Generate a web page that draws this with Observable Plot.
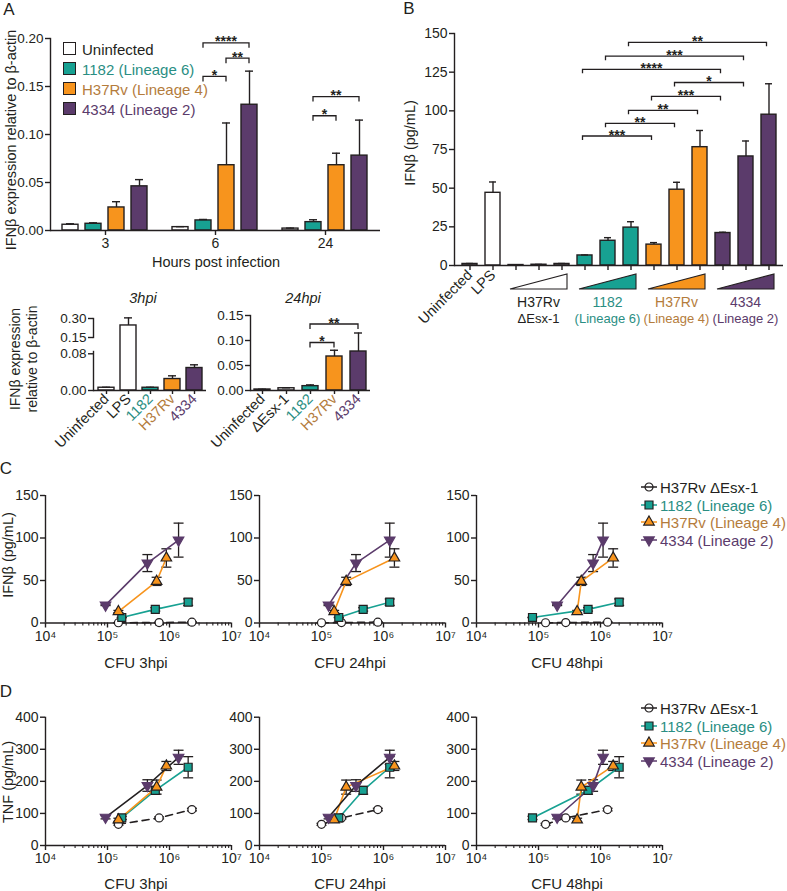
<!DOCTYPE html>
<html>
<head>
<meta charset="utf-8">
<script src="https://cdn.jsdelivr.net/npm/d3@7"></script>
<script src="https://cdn.jsdelivr.net/npm/@observablehq/plot@0.6"></script>
<style>
  html, body { margin: 0; padding: 0; background: #fff; }
  #fig { position: relative; width: 787px; height: 891px; overflow: hidden; background: #fff;
         font-family: "Liberation Sans", Arial, Helvetica, sans-serif; color: #231f20; }
  .t { position: absolute; white-space: nowrap; line-height: 1; }
</style>
</head>
<body>
<div id="fig"></div>
<script>
// ================= DATA =================
// Panel A (top): IFNβ expression relative to β-actin, by hours post infection
const hoursA = ["3", "6", "24"];
const seriesA = ["Uninfected", "1182 (Lineage 6)", "H37Rv (Lineage 4)", "4334 (Lineage 2)"];
const aUninfected = [0.006, 0.0035, 0.002];
const a1182 = [0.007, 0.0105, 0.0087];
const aH37Rv = [0.024, 0.068, 0.068];
const a4334 = [0.046, 0.131, 0.078];
const aErrUninfected = [0.001, 0.0005, 0.0005];
const aErr1182 = [0.001, 0.001, 0.0025];
const aErrH37Rv = [0.006, 0.044, 0.0125];
const aErr4334 = [0.007, 0.035, 0.037];
const brAHour = ["6", "6", "6", "24", "24"];
const brAFrom = ["1182 (Lineage 6)", "H37Rv (Lineage 4)", "1182 (Lineage 6)", "1182 (Lineage 6)", "1182 (Lineage 6)"];
const brATo = ["H37Rv (Lineage 4)", "4334 (Lineage 2)", "4334 (Lineage 2)", "H37Rv (Lineage 4)", "4334 (Lineage 2)"];
const brAY = [0.160, 0.179, 0.195, 0.119, 0.139];
const brALabel = ["*", "**", "****", "*", "**"];

// Panel A (bottom): 3hpi and 24hpi
const a3Cats = ["Uninfected", "LPS", "1182", "H37Rv", "4334"];
const a3Values = [0.006, 0.245, 0.006, 0.025, 0.049];
const a3Err = [0.001, 0.06, 0.001, 0.007, 0.007];
const a24Cats = ["Uninfected", "ΔEsx-1", "1182", "H37Rv", "4334"];
const a24Values = [0.002, 0.0045, 0.0087, 0.068, 0.078];
const a24Err = [0.0005, 0.001, 0.0025, 0.0125, 0.037];
const brA24From = ["1182", "1182"];
const brA24To = ["H37Rv", "4334"];
const brA24Y = [0.095, 0.132];
const brA24Label = ["*", "**"];

// Panel B / C: IFNβ (pg/mL) for three increasing doses
const bUninfected = 1.0, bUninfectedErr = 0.3;
const bLPS = 47, bLPSErr = 7;
const doses = ["low", "mid", "high"];
const ifnEsx = [0.3, 0.5, 1.0], ifnErrEsx = [0.2, 0.2, 0.3];
const ifn1182 = [6.5, 16, 24.5], ifnErr1182 = [0.3, 2, 3.8];
const ifnH37Rv = [13.5, 49, 76.5], ifnErrH37Rv = [1.3, 4.8, 10.8];
const ifn4334 = [21, 70.5, 97.5], ifnErr4334 = [0.5, 10, 20];
const bGroups = ["H37Rv ΔEsx-1", "1182", "H37Rv", "4334"];
const bGroupLine1 = ["H37Rv", "1182", "H37Rv", "4334"];
const bGroupLine2 = ["ΔEsx-1", "(Lineage 6)", "(Lineage 4)", "(Lineage 2)"];
const brBFrom = ["1182 high", "1182 mid", "1182 low", "H37Rv mid", "H37Rv low", "1182 high", "1182 mid", "1182 low"];
const brBTo = ["4334 high", "4334 mid", "4334 low", "4334 mid", "4334 low", "H37Rv high", "H37Rv mid", "H37Rv low"];
const brBY = [144, 135, 126.5, 118, 109, 100, 91.6, 83.4];
const brBLabel = ["**", "***", "****", "*", "***", "**", "**", "***"];

// Panel C / D: CFU at 3, 24, 48 hpi
const strainsCD = ["H37Rv ΔEsx-1", "1182 (Lineage 6)", "H37Rv (Lineage 4)", "4334 (Lineage 2)"];
const cfuLabels = ["CFU 3hpi", "CFU 24hpi", "CFU 48hpi"];
const cfu3hpiEsx = [1.5e5, 6.8e5, 2.3e6];
const cfu3hpi1182 = [1.7e5, 5.9e5, 2.0e6];
const cfu3hpiH37Rv = [1.5e5, 6.2e5, 8.9e5];
const cfu3hpi4334 = [9.3e4, 4.4e5, 1.4e6];
const cfu24hpiEsx = [1.0e5, 2.1e5, 8.1e5];
const cfu24hpi1182 = [1.9e5, 4.7e5, 1.26e6];
const cfu24hpiH37Rv = [1.6e5, 2.5e5, 1.5e6];
const cfu24hpi4334 = [1.3e5, 3.6e5, 1.26e6];
const cfu48hpiEsx = [1.3e5, 2.75e5, 1.3e6];
const cfu48hpi1182 = [8.0e4, 6.3e5, 2.0e6];
const cfu48hpiH37Rv = [4.2e5, 4.9e5, 1.6e6];
const cfu48hpi4334 = [2.0e5, 7.6e5, 1.1e6];
const tnfEsx = [66, 86, 112], tnfErrEsx = [3, 3, 4];
const tnf1182 = [86, 172, 244], tnfErr1182 = [5, 12, 33];
const tnfH37Rv = [80, 182, 248], tnfErrH37Rv = [5, 22, 14];
const tnf4334 = [88, 187, 275], tnfErr4334 = [5, 18, 22];

// ================= STYLE =================
const INK = "#231f20";
const TEAL = "#17a192", ORANGE = "#f7941d", PURPLE = "#5b3b6b";
const TEAL_TXT = "#2a8e83", ORANGE_TXT = "#b47c3c", PURPLE_TXT = "#5b3b6b";
const FONT = '"Liberation Sans", Arial, Helvetica, sans-serif';
const SW = 1.4;
const fig = document.getElementById("fig");
const baseStyle = () => ({fontFamily: FONT, fontSize: "13px", background: "transparent", overflow: "visible", color: INK});

function put(node, left, top) {
  node.style.position = "absolute";
  node.style.left = left + "px";
  node.style.top = top + "px";
  fig.appendChild(node);
  return node;
}
function txt(s, x, y, o = {}) {
  const d = document.createElement("div");
  d.className = "t";
  d.textContent = s;
  d.style.left = x + "px";
  d.style.top = y + "px";
  d.style.fontSize = (o.size || 14.5) + "px";
  d.style.color = o.color || INK;
  if (o.italic) d.style.fontStyle = "italic";
  if (o.weight) d.style.fontWeight = o.weight;
  const tx = o.anchor === "start" ? "0" : o.anchor === "end" ? "-100%" : "-50%";
  d.style.transform = `translate(${tx},-50%)` + (o.rotate ? ` rotate(${o.rotate}deg)` : "");
  fig.appendChild(d);
  return d;
}
function bracket(svgNode, x1, x2, y, label, tick = 5) {
  const s = d3.select(svgNode);
  s.append("path").attr("d", `M${x1},${y + tick}V${y}H${x2}V${y + tick}`)
    .attr("fill", "none").attr("stroke", INK).attr("stroke-width", 1.3);
  s.append("text").attr("x", (x1 + x2) / 2).attr("y", y + 3.5).attr("text-anchor", "middle")
    .attr("font-size", 14).attr("font-weight", "bold").attr("fill", INK).text(label);
}
const tickColors = {"1182": TEAL_TXT, "H37Rv": ORANGE_TXT, "4334": PURPLE_TXT};
function colorTicks(svg) {
  d3.select(svg).selectAll("text").each(function () {
    const c = tickColors[this.textContent];
    if (c) d3.select(this).attr("fill", c);
  });
}
const bandCenter = (scale, k) => scale.apply(k) + scale.bandwidth / 2;

// ================= PANEL A (top) =================
const aVals = [aUninfected, a1182, aH37Rv, a4334];
const aErrs = [aErrUninfected, aErr1182, aErrH37Rv, aErr4334];
const rowsA = hoursA.flatMap((h, i) => seriesA.map((s, j) => ({hour: h, series: s, value: aVals[j][i], err: aErrs[j][i]})));
const A_ML = 50;
const plotA = Plot.plot({
  width: 390, height: 275, marginLeft: A_ML, marginRight: 10, marginTop: 38, marginBottom: 45,
  style: baseStyle(),
  fx: {domain: hoursA, paddingInner: 0, paddingOuter: 0},
  x: {domain: seriesA, paddingInner: 0.3, paddingOuter: 0.54, axis: null},
  y: {domain: [0, 0.2]},
  color: {domain: seriesA, range: ["#ffffff", TEAL, ORANGE, PURPLE]},
  marks: [
    Plot.barY(rowsA, {fx: "hour", x: "series", y: "value", fill: "series", stroke: INK, strokeWidth: SW}),
    Plot.ruleX(rowsA, {fx: "hour", x: "series", y1: "value", y2: d => d.value + d.err, stroke: INK, strokeWidth: SW}),
    Plot.tickY(rowsA, {fx: "hour", x: "series", y: d => d.value + d.err, stroke: INK, strokeWidth: SW, insetLeft: 4, insetRight: 4}),
    Plot.ruleY([0], {stroke: INK, strokeWidth: SW}),
    Plot.frame({anchor: "left", facetAnchor: "left", stroke: INK, strokeWidth: SW}),
    Plot.axisY({ticks: [0, 0.05, 0.1, 0.15, 0.2], tickFormat: d3.format(".2f"), tickSize: 5, tickPadding: 2, fontSize: 13.5, label: null, strokeWidth: SW}),
    Plot.axisFx({anchor: "bottom", tickSize: 5, tickPadding: 3, fontSize: 14, label: null, strokeWidth: SW})
  ]
});
put(plotA, 0, 0);
{
  const fx = plotA.scale("fx"), x = plotA.scale("x"), y = plotA.scale("y");
  // facet groups are translated by (fx(h) - marginLeft); the inner x range starts at marginLeft
  const cx = (h, s) => fx.apply(h) - A_ML + bandCenter(x, s);
  brAHour.forEach((h, i) => bracket(plotA, cx(h, brAFrom[i]), cx(h, brATo[i]), y.apply(brAY[i]), brALabel[i]));
}
// legend A
const legendAFill = ["#ffffff", TEAL, ORANGE, PURPLE];
const legendAText = [INK, TEAL_TXT, ORANGE_TXT, PURPLE_TXT];
seriesA.forEach((s, i) => {
  const y = 49 + i * 20;
  const sw = document.createElement("div");
  Object.assign(sw.style, {position: "absolute", left: "63px", top: (y - 7) + "px", width: "11px", height: "11px",
    background: legendAFill[i], border: "1.5px solid " + INK});
  fig.appendChild(sw);
  txt(s, 82, y, {anchor: "start", size: 15, color: legendAText[i]});
});
txt("A", 9, 9, {size: 17});
txt("IFNβ expression relative to β-actin", 11, 140, {rotate: -90, size: 14.5});
txt("Hours post infection", 216, 262, {size: 14.5});

// ================= PANEL A (bottom) =================
const a3Rows = a3Cats.map((c, i) => ({cat: c, value: a3Values[i], err: a3Err[i]}));
const a3Color = {domain: a3Cats, range: ["#ffffff", "#ffffff", TEAL, ORANGE, PURPLE]};
const a3X = {domain: a3Cats, paddingInner: 0.28, paddingOuter: 0.18};
const plotA3hi = Plot.plot({
  width: 230, height: 40, marginLeft: 93, marginRight: 24, marginTop: 18, marginBottom: 3,
  style: baseStyle(), x: {...a3X, axis: null}, y: {domain: [0.15, 0.30]}, color: a3Color,
  marks: [
    Plot.barY(a3Rows, {x: "cat", y: "value", fill: "cat", stroke: INK, strokeWidth: SW, clip: true}),
    Plot.ruleX(a3Rows, {filter: d => d.value >= 0.15, x: "cat", y1: "value", y2: d => d.value + d.err, stroke: INK, strokeWidth: SW}),
    Plot.tickY(a3Rows, {filter: d => d.value >= 0.15, x: "cat", y: d => d.value + d.err, stroke: INK, strokeWidth: SW, insetLeft: 4, insetRight: 4}),
    Plot.frame({anchor: "left", stroke: INK, strokeWidth: SW}),
    Plot.axisY({ticks: [0.15, 0.30], tickFormat: d3.format(".2f"), tickSize: 5, tickPadding: 2, fontSize: 13.5, label: null, strokeWidth: SW})
  ]
});
const plotA3lo = Plot.plot({
  width: 230, height: 130, marginLeft: 93, marginRight: 24, marginTop: 7, marginBottom: 70,
  style: baseStyle(), x: a3X, y: {domain: [0, 0.1155]}, color: a3Color,
  marks: [
    Plot.barY(a3Rows, {x: "cat", y: "value", fill: "cat", stroke: INK, strokeWidth: SW, clip: true}),
    Plot.ruleX(a3Rows, {filter: d => d.value < 0.1, x: "cat", y1: "value", y2: d => d.value + d.err, stroke: INK, strokeWidth: SW}),
    Plot.tickY(a3Rows, {filter: d => d.value < 0.1, x: "cat", y: d => d.value + d.err, stroke: INK, strokeWidth: SW, insetLeft: 4, insetRight: 4}),
    Plot.ruleY([0], {stroke: INK, strokeWidth: SW}),
    Plot.frame({anchor: "left", insetTop: 14, stroke: INK, strokeWidth: SW}),
    Plot.axisY({ticks: [0, 0.08], tickFormat: d3.format(".2f"), tickSize: 5, tickPadding: 2, fontSize: 13.5, label: null, strokeWidth: SW}),
    Plot.axisX({tickRotate: -45, tickSize: 4, tickPadding: 2, fontSize: 14.5, label: null, strokeWidth: SW})
  ]
});
put(plotA3lo, 0, 330);
put(plotA3hi, 0, 300);
colorTicks(plotA3lo);

const a24Rows = a24Cats.map((c, i) => ({cat: c, value: a24Values[i], err: a24Err[i]}));
const plotA24 = Plot.plot({
  width: 390, height: 170, marginLeft: 250, marginRight: 20, marginTop: 15, marginBottom: 80,
  style: baseStyle(),
  x: {domain: a24Cats, paddingInner: 0.35, paddingOuter: 0.12},
  y: {domain: [0, 0.15]},
  color: {domain: a24Cats, range: ["#ffffff", "#ffffff", TEAL, ORANGE, PURPLE]},
  marks: [
    Plot.barY(a24Rows, {x: "cat", y: "value", fill: "cat", stroke: INK, strokeWidth: SW}),
    Plot.ruleX(a24Rows, {x: "cat", y1: "value", y2: d => d.value + d.err, stroke: INK, strokeWidth: SW}),
    Plot.tickY(a24Rows, {x: "cat", y: d => d.value + d.err, stroke: INK, strokeWidth: SW, insetLeft: 4, insetRight: 4}),
    Plot.ruleY([0], {stroke: INK, strokeWidth: SW}),
    Plot.frame({anchor: "left", stroke: INK, strokeWidth: SW}),
    Plot.axisY({ticks: [0, 0.05, 0.10, 0.15], tickFormat: d3.format(".2f"), tickSize: 5, tickPadding: 2, fontSize: 13.5, label: null, strokeWidth: SW}),
    Plot.axisX({tickRotate: -45, tickSize: 4, tickPadding: 2, fontSize: 14.5, label: null, strokeWidth: SW})
  ]
});
put(plotA24, 0, 300);
colorTicks(plotA24);
{
  const x = plotA24.scale("x"), y = plotA24.scale("y");
  brA24From.forEach((f, i) => bracket(plotA24, bandCenter(x, f), bandCenter(x, brA24To[i]), y.apply(brA24Y[i]), brA24Label[i]));
}
txt("3hpi", 143, 298, {italic: true, size: 14.5});
txt("24hpi", 303, 298, {italic: true, size: 14.5});
txt("IFNβ expression", 15, 359, {rotate: -90, size: 14});
txt("relative to β-actin", 32, 359, {rotate: -90, size: 14});

// ================= PANEL B =================
const ifnByGroup = [ifnEsx, ifn1182, ifnH37Rv, ifn4334];
const ifnErrByGroup = [ifnErrEsx, ifnErr1182, ifnErrH37Rv, ifnErr4334];
const bRows = [
  {key: "Uninfected", strain: "Uninfected", value: bUninfected, err: bUninfectedErr},
  {key: "LPS", strain: "LPS", value: bLPS, err: bLPSErr},
  ...bGroups.flatMap((g, gi) => doses.map((d, di) => ({key: g + " " + d, strain: g, value: ifnByGroup[gi][di], err: ifnErrByGroup[gi][di]})))
];
const plotB = Plot.plot({
  width: 397, height: 330, marginLeft: 64, marginRight: 4, marginTop: 33, marginBottom: 65,
  style: baseStyle(),
  x: {domain: bRows.map(d => d.key), paddingInner: 0.35, paddingOuter: 0.28},
  y: {domain: [0, 150]},
  color: {domain: ["Uninfected", "LPS", ...bGroups], range: ["#ffffff", "#ffffff", "#ffffff", TEAL, ORANGE, PURPLE]},
  marks: [
    Plot.barY(bRows, {x: "key", y: "value", fill: "strain", stroke: INK, strokeWidth: SW}),
    Plot.ruleX(bRows, {x: "key", y1: "value", y2: d => d.value + d.err, stroke: INK, strokeWidth: SW}),
    Plot.tickY(bRows, {x: "key", y: d => d.value + d.err, stroke: INK, strokeWidth: SW, insetLeft: 4, insetRight: 4}),
    Plot.ruleY([0], {stroke: INK, strokeWidth: SW}),
    Plot.frame({anchor: "left", stroke: INK, strokeWidth: SW}),
    Plot.axisY({ticks: [0, 25, 50, 75, 100, 125, 150], tickSize: 5, tickPadding: 2, fontSize: 14, label: null, strokeWidth: SW}),
    Plot.axisX({tickRotate: -45, tickSize: 5, tickPadding: 2, fontSize: 14.5, label: null, strokeWidth: SW,
      tickFormat: k => (k === "Uninfected" || k === "LPS") ? k : ""})
  ]
});
put(plotB, 390, 0);
{
  const x = plotB.scale("x"), y = plotB.scale("y"), bw = x.bandwidth;
  brBFrom.forEach((f, i) => bracket(plotB, bandCenter(x, f) - 2, bandCenter(x, brBTo[i]) - 2, y.apply(brBY[i]), brBLabel[i], 4));
  const wedgeFill = ["#ffffff", TEAL, ORANGE, PURPLE];
  const groupText = [INK, TEAL_TXT, ORANGE_TXT, PURPLE_TXT];
  const s = d3.select(plotB);
  bGroups.forEach((g, gi) => {
    const xl = x.apply(g + " low") + 2, xr = x.apply(g + " high") + bw - 2;
    s.append("path").attr("d", `M${xl},289L${xr},289L${xr},274Z`).attr("fill", wedgeFill[gi])
      .attr("stroke", INK).attr("stroke-width", 1.1).attr("stroke-linejoin", "miter");
    const c = (xl + xr) / 2;
    s.append("text").attr("x", c).attr("y", 307).attr("text-anchor", "middle").attr("font-size", 14).attr("fill", groupText[gi]).text(bGroupLine1[gi]);
    s.append("text").attr("x", c).attr("y", 323).attr("text-anchor", "middle").attr("font-size", 13).attr("fill", groupText[gi]).text(bGroupLine2[gi]);
  });
}
txt("B", 409, 8, {size: 17});
txt("IFNβ (pg/mL)", 410, 143, {rotate: -90, size: 14.5});

// ================= PANELS C & D =================
const cfuTables = [
  [cfu3hpiEsx, cfu3hpi1182, cfu3hpiH37Rv, cfu3hpi4334],
  [cfu24hpiEsx, cfu24hpi1182, cfu24hpiH37Rv, cfu24hpi4334],
  [cfu48hpiEsx, cfu48hpi1182, cfu48hpiH37Rv, cfu48hpi4334]
];
const ifnAll = [ifnEsx, ifn1182, ifnH37Rv, ifn4334];
const ifnErrAll = [ifnErrEsx, ifnErr1182, ifnErrH37Rv, ifnErr4334];
const tnfAll = [tnfEsx, tnf1182, tnfH37Rv, tnf4334];
const tnfErrAll = [tnfErrEsx, tnfErr1182, tnfErrH37Rv, tnfErr4334];
const rowsCD = t => strainsCD.flatMap((s, i) => doses.map((d, j) => ({
  strain: s, cfu: cfuTables[t][i][j], ifn: ifnAll[i][j], ifnErr: ifnErrAll[i][j], tnf: tnfAll[i][j], tnfErr: tnfErrAll[i][j]
})));
const cdStyle = [
  {symbol: "circle", r: 4.0, fill: "#ffffff", stroke: INK, rotate: 0, line: INK, dash: "7,5"},
  {symbol: "square", r: 4.5, fill: TEAL, stroke: INK, rotate: 0, line: TEAL},
  {symbol: "triangle", r: 3.9, fill: ORANGE, stroke: INK, rotate: 0, line: ORANGE},
  {symbol: "triangle", r: 3.9, fill: PURPLE, stroke: PURPLE, rotate: 180, line: PURPLE}
];
const capSymbol = {draw(ctx) { ctx.moveTo(-5, 0); ctx.lineTo(5, 0); }};
const sup = {4: "⁴", 5: "⁵", 6: "⁶", 7: "⁷"};
const majorTicks = [1e4, 1e5, 1e6, 1e7];
const minorTicks = d3.range(4, 7).flatMap(e => d3.range(2, 10).map(m => m * 10 ** e));
const frameCols = [[45, 231], [259, 445], [476, 662]];

function cdPlot(t, yKey, errKey, yDomain, yTicks, top, yTopPx, yZeroPx, line4334) {
  const rows = rowsCD(t);
  const [fl, fr] = frameCols[t];
  const left = fl - 45, width = 250, height = 175;
  const p = Plot.plot({
    width, height,
    marginLeft: fl - left, marginRight: width - (fr - left),
    marginTop: yTopPx - top, marginBottom: height - (yZeroPx - top),
    style: baseStyle(),
    x: {type: "log", domain: [1e4, 1e7]},
    y: {domain: yDomain},
    marks: [
      Plot.ruleY([0], {stroke: INK, strokeWidth: SW}),
      Plot.ruleX([1e4], {stroke: INK, strokeWidth: SW}),
      Plot.axisY({ticks: yTicks, tickSize: 5, tickPadding: 2, fontSize: 14, label: null, strokeWidth: SW}),
      Plot.axisX({ticks: majorTicks, tickFormat: d => "10" + sup[Math.round(Math.log10(d))], tickSize: 5, tickPadding: 3, fontSize: 14, label: null, strokeWidth: SW}),
      Plot.axisX({ticks: minorTicks, tickFormat: () => "", tickSize: 3, label: null, strokeWidth: 1.1}),
      Plot.ruleX(rows, {x: "cfu", y1: d => d[yKey] - d[errKey], y2: d => d[yKey] + d[errKey], stroke: INK, strokeWidth: 1.3}),
      Plot.dot(rows, {x: "cfu", y: d => d[yKey] + d[errKey], symbol: capSymbol, stroke: INK, strokeWidth: 1.3}),
      Plot.dot(rows, {x: "cfu", y: d => d[yKey] - d[errKey], symbol: capSymbol, stroke: INK, strokeWidth: 1.3}),
      ...strainsCD.map((s, i) => Plot.line(rows.filter(d => d.strain === s), {
        x: "cfu", y: yKey, stroke: i === 3 ? line4334 : cdStyle[i].line, strokeWidth: 1.6,
        strokeDasharray: cdStyle[i].dash || "none"})),
      ...strainsCD.map((s, i) => Plot.dot(rows.filter(d => d.strain === s), {
        x: "cfu", y: yKey, symbol: cdStyle[i].symbol, r: cdStyle[i].r, fill: cdStyle[i].fill,
        stroke: cdStyle[i].stroke, strokeWidth: 1.2, rotate: cdStyle[i].rotate}))
    ]
  });
  put(p, left, top);
  return p;
}
const line4334C = [PURPLE, PURPLE, PURPLE];
const line4334D = [INK, INK, PURPLE];
[0, 1, 2].forEach(t => {
  cdPlot(t, "ifn", "ifnErr", [0, 150], [0, 50, 100, 150], 480, 495, 622.5, line4334C[t]);
  cdPlot(t, "tnf", "tnfErr", [0, 400], [0, 100, 200, 300, 400], 700, 716.7, 845, line4334D[t]);
  const cx = (frameCols[t][0] + frameCols[t][1]) / 2 - 2;
  txt(cfuLabels[t], cx, 662, {size: 15});
  txt(cfuLabels[t], cx, 883, {size: 15});
});
txt("C", 6, 468, {size: 17});
txt("D", 6, 691, {size: 17});
txt("IFNβ (pg/mL)", 8, 555, {rotate: -90, size: 14.5});
txt("TNF (pg/mL)", 8, 782, {rotate: -90, size: 14.5});

// legends C and D
const legendCDText = [INK, TEAL_TXT, ORANGE_TXT, PURPLE_TXT];
const symType = {circle: d3.symbolCircle, square: d3.symbolSquare, triangle: d3.symbolTriangle};
function legendCD(top) {
  strainsCD.forEach((s, i) => {
    const st = cdStyle[i];
    const y = top + i * 17.5;
    const svg = d3.create("svg").attr("width", 16).attr("height", 14).style("overflow", "visible");
    svg.append("path")
      .attr("transform", `translate(8,7) rotate(${st.rotate})`)
      .attr("d", d3.symbol(symType[st.symbol], Math.PI * st.r * st.r)())
      .attr("fill", i === 0 ? "none" : st.fill).attr("stroke", st.stroke).attr("stroke-width", 1.2);
    svg.insert("line", i === 0 ? null : "path").attr("x1", 0).attr("x2", 16).attr("y1", 7).attr("y2", 7)
      .attr("stroke", st.line).attr("stroke-width", 1.5);
    put(svg.node(), 641, y - 7);
    txt(s, 660, y, {anchor: "start", size: 15, color: legendCDText[i]});
  });
}
legendCD(487);
legendCD(708);
</script>
</body>
</html>
